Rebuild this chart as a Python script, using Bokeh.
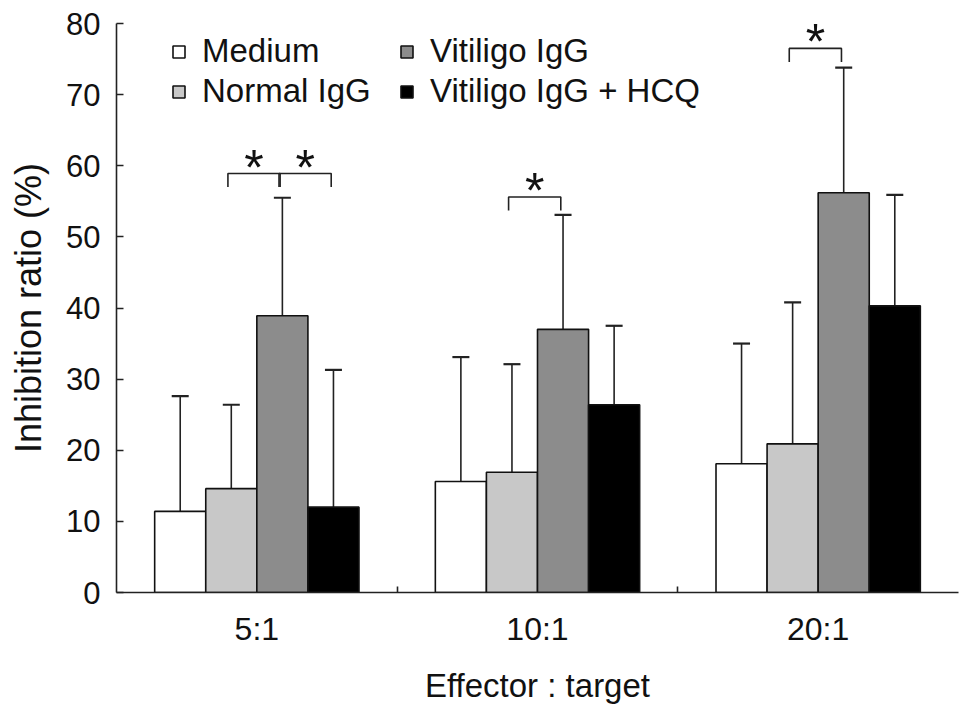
from bokeh.plotting import figure
from bokeh.models import (ColumnDataSource, Range1d, FixedTicker, Whisker, TeeHead,
                          Legend, LegendItem)
from bokeh.core.properties import value
from bokeh.embed import file_html
from bokeh.resources import INLINE

# ---- data ----
categories = ["5:1", "10:1", "20:1"]
series = ["Medium", "Normal IgG", "Vitiligo IgG", "Vitiligo IgG + HCQ"]
medium = [11.4, 15.6, 18.1]
medium_sd = [16.2, 17.5, 16.9]
normal_igg = [14.6, 16.9, 20.9]
normal_igg_sd = [11.8, 15.2, 19.9]
vitiligo_igg = [38.9, 37.0, 56.2]
vitiligo_igg_sd = [16.6, 16.1, 17.6]
vitiligo_hcq = [12.0, 26.4, 40.3]
vitiligo_hcq_sd = [19.3, 11.1, 15.6]
y_ticks = [0, 10, 20, 30, 40, 50, 60, 70, 80]
# significance brackets: (group index, series a, series b, bracket level)
sig_group = [0, 0, 1, 2]
sig_a = [1, 2, 1, 1]
sig_b = [2, 3, 2, 2]
sig_level = [58.9, 58.9, 55.6, 76.5]

means = [medium, normal_igg, vitiligo_igg, vitiligo_hcq]
sds = [medium_sd, normal_igg_sd, vitiligo_igg_sd, vitiligo_hcq_sd]
colors = ["#ffffff", "#c8c8c8", "#8c8c8c", "#000000"]

FONT = "Liberation Sans"
BAR_W = 0.182
INK = "#111111"

def bar_x(g, s):
    return g + 0.5 + (s - 1.5) * BAR_W

p = figure(width=966, height=706, output_backend="svg", toolbar_location=None,
           x_range=Range1d(0, 3), y_range=Range1d(0, 80),
           min_border_left=116, min_border_top=23, min_border_right=8,
           min_border_bottom=10)
p.outline_line_color = None
p.xgrid.visible = False
p.ygrid.visible = False
p.background_fill_color = "white"
p.border_fill_color = "white"

legend_items = []
for s, name in enumerate(series):
    xs = [bar_x(g, s) for g in range(len(categories))]
    tops = means[s]
    uppers = [m + d for m, d in zip(means[s], sds[s])]
    src = ColumnDataSource(dict(x=xs, top=tops, upper=uppers))
    w = Whisker(base="x", lower="top", upper="upper", source=src, dimension="height",
                line_color="#222222", line_width=1.6,
                upper_head=TeeHead(size=17, line_width=2.2, line_color="#222222"),
                lower_head=None)
    p.add_layout(w)
    r = p.vbar(x="x", top="top", width=BAR_W, bottom=0, source=src,
               fill_color=colors[s], line_color=INK, line_width=1.6)
    legend_items.append(LegendItem(label=name, renderers=[r]))

# significance brackets and stars
bx, by, sx, sy = [], [], [], []
leg = 1.9
for g, a, b, lv in zip(sig_group, sig_a, sig_b, sig_level):
    x0 = bar_x(g, a) - 0.012
    x1 = bar_x(g, b) - 0.008
    bx.append([x0, x0, x1, x1])
    by.append([lv - leg, lv, lv, lv - leg])
    sx.append((x0 + x1) / 2)
    sy.append(lv)
p.multi_line(xs=bx, ys=by, line_color="#222222", line_width=1.6)
p.text(x=sx, y=sy, text=["*"] * len(sx), text_font=value(FONT), text_font_size="50px",
       text_align="center", text_baseline="alphabetic", y_offset=-6, text_color=INK)

# legends (two columns)
for items, loc in ((legend_items[:2], (55, 482)), (legend_items[2:], (283, 482))):
    lg = Legend(items=items, location=loc, orientation="vertical",
                glyph_width=15, glyph_height=15, label_standoff=16, spacing=2,
                padding=0, margin=0, border_line_color=None,
                background_fill_alpha=0, label_text_font=FONT,
                label_text_color=INK,
                label_text_font_size="33px", label_height=38)
    p.add_layout(lg, "center")

# axes
yax = p.yaxis[0]
yax.ticker = FixedTicker(ticks=y_ticks)
yax.major_tick_in = 7
yax.major_tick_out = 0
yax.minor_tick_line_color = None
yax.axis_line_width = 1.6
yax.major_tick_line_width = 1.6
yax.axis_line_color = "#222222"
yax.major_tick_line_color = "#222222"
yax.major_label_text_font = FONT
yax.major_label_text_color = INK
yax.major_label_text_font_size = "31px"
yax.major_label_standoff = 16
yax.axis_label = "Inhibition ratio (%)"
yax.axis_label_text_font = FONT
yax.axis_label_text_color = INK
yax.axis_label_text_font_size = "36px"
yax.axis_label_text_font_style = "normal"
yax.axis_label_standoff = 14

xax = p.xaxis[0]
xax.ticker = FixedTicker(ticks=[g + 0.5 for g in range(len(categories))],
                         minor_ticks=list(range(1, len(categories))))
xax.major_label_overrides = {g + 0.5: c for g, c in enumerate(categories)}
xax.major_tick_line_color = None
xax.minor_tick_in = 6
xax.minor_tick_out = 0
xax.minor_tick_line_width = 1.6
xax.minor_tick_line_color = "#222222"
xax.axis_line_width = 1.6
xax.axis_line_color = "#222222"
xax.major_label_text_font = FONT
xax.major_label_text_color = INK
xax.major_label_text_font_size = "32px"
xax.major_label_standoff = 12
xax.axis_label = "Effector : target"
xax.axis_label_text_font = FONT
xax.axis_label_text_color = INK
xax.axis_label_text_font_size = "33px"
xax.axis_label_text_font_style = "normal"
xax.axis_label_standoff = 17

open("out.html", "w").write(file_html(p, INLINE))
